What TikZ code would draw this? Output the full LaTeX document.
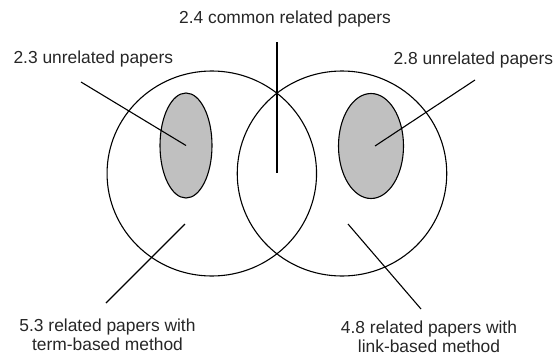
\documentclass[tikz,border=0pt]{standalone}
\usepackage{fontspec}
\setmainfont{Liberation Sans}
\usetikzlibrary{shapes.geometric}
\definecolor{shade}{HTML}{C0C0C0}
\begin{document}
\begin{tikzpicture}[x=1pt,y=-1pt,
  lbl/.style={inner sep=0pt, font=\fontsize{17.4}{19}\selectfont, text=black!85},
  bigset/.style={ellipse, draw, line width=1.1pt, minimum width=209.5pt, minimum height=205pt, inner sep=0pt},
  grey/.style={ellipse, draw, line width=1.1pt, fill=shade, inner sep=0pt},
  conn/.style={line width=1.1pt}]
\useasboundingbox (0,0) rectangle (557,359);
% sets
\node[grey, minimum width=52pt, minimum height=105pt] (le) at (186,145.5) {};
\node[grey, minimum width=65pt, minimum height=105pt] (re) at (371,146) {};
\node[bigset] (lc) at (211.8,173.5) {};
\node[bigset] (rc) at (342,173.5) {};
% labels
\node[lbl, anchor=base] (tc) at (285,23.3) {2.4 common related papers};
\node[lbl, anchor=base west] (tl) at (13.3,63.3) {2.3 unrelated papers};
\node[lbl, anchor=base west] (tr) at (393.3,64) {2.8 unrelated papers};
\node[lbl, anchor=north, align=center] (bl) at (107.5,319) {5.3 related papers with\\term-based method};
\node[lbl, anchor=north, align=center] (br) at (429,320.5) {4.8 related papers with\\link-based method};
% connector ends
\coordinate (c1) at (81,82);
\coordinate (c2) at (277,42);
\coordinate (c2e) at (277,172.5);
\coordinate (c3) at (475,80);
\coordinate (c3e) at (375,146);
\coordinate (c4) at (185,224);
\coordinate (c4e) at (106,303);
\coordinate (c5) at (348,224);
\coordinate (c5e) at (421,309);
\draw[conn] (c1) -- (le.center);
\draw[conn] (c2) -- (c2e);
\draw[conn] (c3) -- (c3e);
\draw[conn] (c4) -- (c4e);
\draw[conn] (c5) -- (c5e);
\end{tikzpicture}
\end{document}
